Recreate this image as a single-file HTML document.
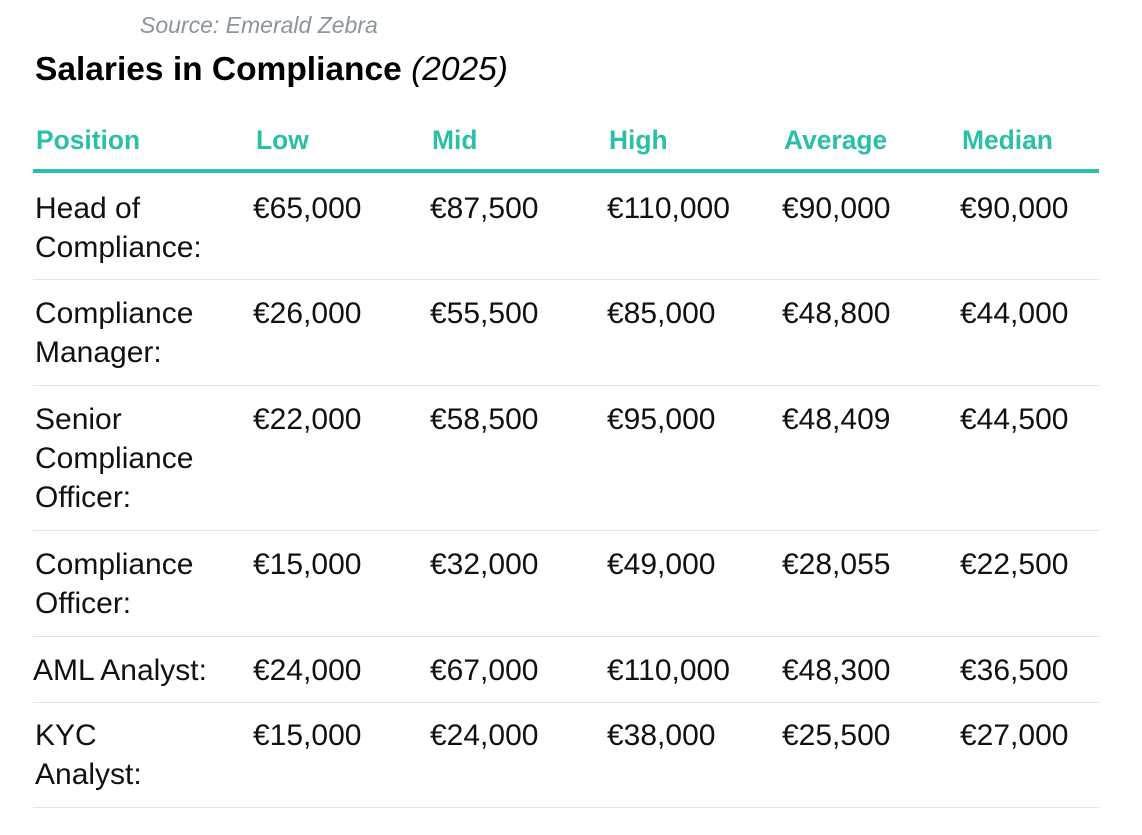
<!DOCTYPE html>
<html><head><meta charset="utf-8"><style>
body{margin:0;width:1142px;height:835px;background:#fff;position:relative;font-family:"Liberation Sans",sans-serif;overflow:hidden}
div{position:absolute;white-space:nowrap}
.s{left:140px;top:14px;font-size:23px;line-height:22px;font-style:italic;color:#8a959c}
.t{left:35px;top:54px;font-size:33.5px;line-height:32px;font-weight:bold;color:#000}
.t i{font-weight:normal}
.h{top:128px;font-size:26.4px;line-height:24px;font-weight:bold;color:#2bbfa8}
.c{font-size:30px;line-height:39px;color:#111;margin-top:1px}
.hl{left:33px;width:1066px;top:169px;height:4px;background:#2bbfa8}
.ln{left:33px;width:1066px;height:1px;background:#e2e2e2}
</style></head><body>
<div class="s">Source: Emerald Zebra</div>
<div class="t">Salaries in Compliance <i>(2025)</i></div>
<div class="h" style="left:36px">Position</div>
<div class="h" style="left:256px">Low</div>
<div class="h" style="left:432px">Mid</div>
<div class="h" style="left:609px">High</div>
<div class="h" style="left:784px">Average</div>
<div class="h" style="left:962px">Median</div>
<div class="hl"></div>

<div class="c" style="left:35px;top:188px">Head of<br>Compliance:</div>
<div class="c" style="left:253px;top:188px">€65,000</div>
<div class="c" style="left:430px;top:188px">€87,500</div>
<div class="c" style="left:607px;top:188px">€110,000</div>
<div class="c" style="left:782px;top:188px">€90,000</div>
<div class="c" style="left:960px;top:188px">€90,000</div>
<div class="ln" style="top:279px"></div>

<div class="c" style="left:35px;top:293px">Compliance<br>Manager:</div>
<div class="c" style="left:253px;top:293px">€26,000</div>
<div class="c" style="left:430px;top:293px">€55,500</div>
<div class="c" style="left:607px;top:293px">€85,000</div>
<div class="c" style="left:782px;top:293px">€48,800</div>
<div class="c" style="left:960px;top:293px">€44,000</div>
<div class="ln" style="top:385px"></div>

<div class="c" style="left:35px;top:399px">Senior<br>Compliance<br>Officer:</div>
<div class="c" style="left:253px;top:399px">€22,000</div>
<div class="c" style="left:430px;top:399px">€58,500</div>
<div class="c" style="left:607px;top:399px">€95,000</div>
<div class="c" style="left:782px;top:399px">€48,409</div>
<div class="c" style="left:960px;top:399px">€44,500</div>
<div class="ln" style="top:530px"></div>

<div class="c" style="left:35px;top:544px">Compliance<br>Officer:</div>
<div class="c" style="left:253px;top:544px">€15,000</div>
<div class="c" style="left:430px;top:544px">€32,000</div>
<div class="c" style="left:607px;top:544px">€49,000</div>
<div class="c" style="left:782px;top:544px">€28,055</div>
<div class="c" style="left:960px;top:544px">€22,500</div>
<div class="ln" style="top:636px"></div>

<div class="c" style="left:33px;top:650px">AML Analyst:</div>
<div class="c" style="left:253px;top:650px">€24,000</div>
<div class="c" style="left:430px;top:650px">€67,000</div>
<div class="c" style="left:607px;top:650px">€110,000</div>
<div class="c" style="left:782px;top:650px">€48,300</div>
<div class="c" style="left:960px;top:650px">€36,500</div>
<div class="ln" style="top:702px"></div>

<div class="c" style="left:35px;top:715px">KYC<br>Analyst:</div>
<div class="c" style="left:253px;top:715px">€15,000</div>
<div class="c" style="left:430px;top:715px">€24,000</div>
<div class="c" style="left:607px;top:715px">€38,000</div>
<div class="c" style="left:782px;top:715px">€25,500</div>
<div class="c" style="left:960px;top:715px">€27,000</div>
<div class="ln" style="top:807px"></div>
</body></html>
